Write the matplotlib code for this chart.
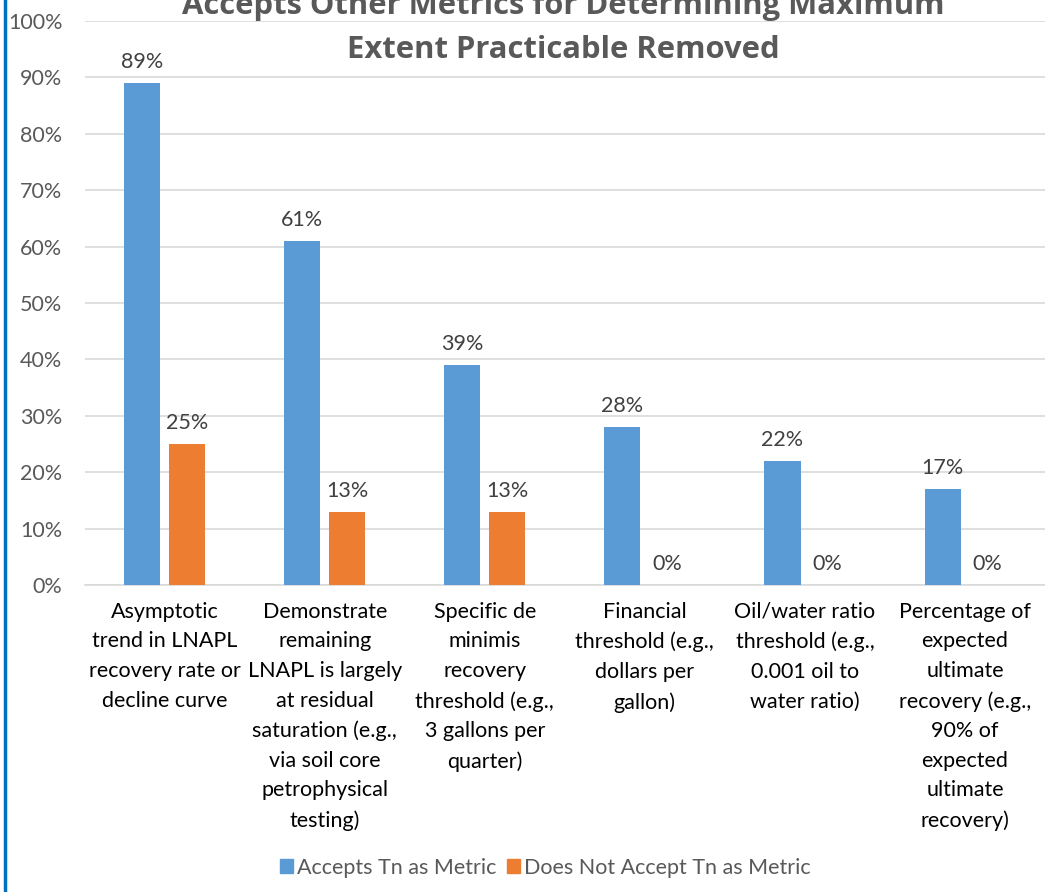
import numpy as np
import matplotlib.pyplot as plt
from matplotlib.patches import Patch
from matplotlib.ticker import PercentFormatter

categories = [
    "Asymptotic\ntrend in LNAPL\nrecovery rate or\ndecline curve",
    "Demonstrate\nremaining\nLNAPL is largely\nat residual\nsaturation (e.g.,\nvia soil core\npetrophysical\ntesting)",
    "Specific de\nminimis\nrecovery\nthreshold (e.g.,\n3 gallons per\nquarter)",
    "Financial\nthreshold (e.g.,\ndollars per\ngallon)",
    "Oil/water ratio\nthreshold (e.g.,\n0.001 oil to\nwater ratio)",
    "Percentage of\nexpected\nultimate\nrecovery (e.g.,\n90% of\nexpected\nultimate\nrecovery)",
]
accepts = [89, 61, 39, 28, 22, 17]
not_accepts = [25, 13, 13, 0, 0, 0]
series_names = ["Accepts Tn as Metric", "Does Not Accept Tn as Metric"]

blue = "#5B9BD5"
orange = "#ED7D31"
txt = "#595959"
fs = 15.5
plt.rcParams['font.family'] = ['Lato', 'DejaVu Sans']

fig = plt.figure(figsize=(10.45, 8.92), dpi=100)
ax = fig.add_axes([0.081, 0.344, 0.919, 0.6325])

x = np.arange(len(categories))
w = 0.225
off = 0.14
b1 = ax.bar(x - off, accepts, w, color=blue, zorder=3)
b2 = ax.bar(x + off, not_accepts, w, color=orange, zorder=3)

for bars, vals in [(b1, accepts), (b2, not_accepts)]:
    for r, v in zip(bars, vals):
        ax.text(r.get_x() + r.get_width() / 2, v + 2.0, f"{v}%", ha="center",
                va="bottom", fontsize=fs, color="#404040")

ax.set_xlim(-0.5, len(categories) - 0.5)
ax.set_ylim(0, 100)
ax.set_yticks(range(0, 101, 10))
ax.yaxis.set_major_formatter(PercentFormatter(decimals=0))
ax.set_xticks(x)
ax.set_xticklabels(categories, fontsize=fs, color="#000000", linespacing=1.6)
ax.tick_params(axis="y", labelsize=fs, labelcolor=txt, length=0, pad=16)
ax.tick_params(axis="x", length=0, pad=12)
ax.grid(axis="y", color="#D9D9D9", linewidth=1.2, zorder=0)
for s in ["top", "right", "left"]:
    ax.spines[s].set_visible(False)
ax.spines["bottom"].set_color("#D9D9D9")
ax.spines["bottom"].set_linewidth(1.2)

fig.text(0.539, 0.993, "Accepts Other Metrics for Determining Maximum", ha="center",
         va="center", fontsize=22.3, fontweight="bold", color=txt, family="Open Sans")
fig.text(0.539, 0.944, "Extent Practicable Removed", ha="center",
         va="center", fontsize=22.3, fontweight="bold", color=txt, family="Open Sans")

handles = [Patch(color=blue), Patch(color=orange)]
fig.legend(handles, series_names, loc="center", bbox_to_anchor=(0.522, 0.027), ncol=2,
           frameon=False, fontsize=fs, labelcolor=txt, handlelength=0.6,
           handleheight=0.6, handletextpad=0.2, columnspacing=0.5)

fig.add_artist(plt.Line2D([0.005, 0.005], [0, 1], color="#0070C0", linewidth=2.5,
                          transform=fig.transFigure))

fig.savefig("out.png", dpi=100)
